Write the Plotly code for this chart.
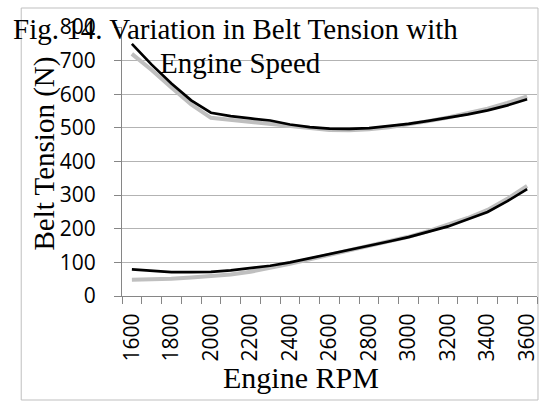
import plotly.graph_objects as go

rpm = list(range(1600, 3700, 100))
upper_black = [750, 688, 632, 582, 545, 535, 528, 522, 510, 502, 498, 497, 499, 505, 512, 521, 530, 540, 552, 567, 585]
upper_gray = [720, 672, 620, 570, 530, 524, 517, 510, 504, 498, 494, 493, 496, 502, 510, 520, 531, 544, 557, 574, 594]
lower_black = [79, 74, 71, 71, 72, 76, 82, 90, 100, 112, 124, 137, 150, 162, 175, 190, 207, 228, 250, 282, 318]
lower_gray = [48, 49, 51, 55, 59, 64, 72, 83, 96, 109, 122, 135, 148, 162, 176, 193, 211, 232, 256, 289, 327]
x_ticks = list(range(1600, 3700, 200))
y_ticks = list(range(0, 900, 100))

W, H = 542, 402
ML, MR, MT, MB = 122, 2, 27, 106
PW, PH = W - ML - MR, H - MT - MB

def px(x):
    return (x - ML) / PW

def py(y):
    return (H - MB - y) / PH

GRAY = "#bfbfbf"
fig = go.Figure()
for yv in (upper_gray, lower_gray):
    fig.add_trace(go.Scatter(x=rpm, y=yv, mode="lines", line=dict(color=GRAY, width=4), showlegend=False))
for yv in (upper_black, lower_black):
    fig.add_trace(go.Scatter(x=rpm, y=yv, mode="lines", line=dict(color="#000000", width=2.7), showlegend=False))

tick_font = dict(family="Open Sans, Carlito, sans-serif", size=21, color="#000000")
serif = "Liberation Serif, Times New Roman, serif"

fig.update_layout(
    width=W, height=H,
    margin=dict(l=ML, r=MR, t=MT, b=MB),
    paper_bgcolor="white", plot_bgcolor="white",
    xaxis=dict(range=[1550, 3650], tickmode="array", tickvals=x_ticks,
               ticktext=[str(v) for v in x_ticks], tickangle=-90, ticks="",
               showgrid=False, showline=True, linecolor="#868686", linewidth=1,
               tickfont=tick_font, zeroline=False, ticklabelstandoff=8,
               ticklabeloverflow="allow",
               minor=dict(tickmode="array", tickvals=[1550 + 100 * k for k in range(22)],
                          ticks="outside", ticklen=7, tickcolor="#868686", showgrid=False)),
    yaxis=dict(range=[0, 800], tickmode="array", tickvals=y_ticks, ticks="outside",
               ticklen=7, tickcolor="#868686", showgrid=True, gridcolor="#b3b3b3", gridwidth=1,
               showline=True, linecolor="#868686", linewidth=1, zeroline=False,
               tickfont=tick_font, ticklabelstandoff=14, ticklabeloverflow="allow"),
    shapes=[dict(type="rect", xref="paper", yref="paper", x0=px(20.5), x1=px(541), y0=py(400), y1=py(8),
                 line=dict(color="#bfbfbf", width=1), fillcolor="rgba(0,0,0,0)", layer="below")],
    annotations=[
        dict(text="Fig. 14. Variation in Belt Tension with", x=px(236), y=py(29), xref="paper", yref="paper",
             showarrow=False, xanchor="center", yanchor="middle", font=dict(family=serif, size=29, color="#000")),
        dict(text="Engine Speed", x=px(241), y=py(63), xref="paper", yref="paper",
             showarrow=False, xanchor="center", yanchor="middle", font=dict(family=serif, size=29, color="#000")),
        dict(text="Engine RPM", x=px(302), y=py(378), xref="paper", yref="paper",
             showarrow=False, xanchor="center", yanchor="middle", font=dict(family=serif, size=30, color="#000")),
        dict(text="Belt Tension (N)", x=px(43), y=py(154), xref="paper", yref="paper", textangle=-90,
             showarrow=False, xanchor="center", yanchor="middle", font=dict(family=serif, size=29, color="#000")),
    ],
)
fig.write_html("out.html", config={"displayModeBar": False},
               post_script="document.body.style.margin='0';document.body.style.padding='0';")
